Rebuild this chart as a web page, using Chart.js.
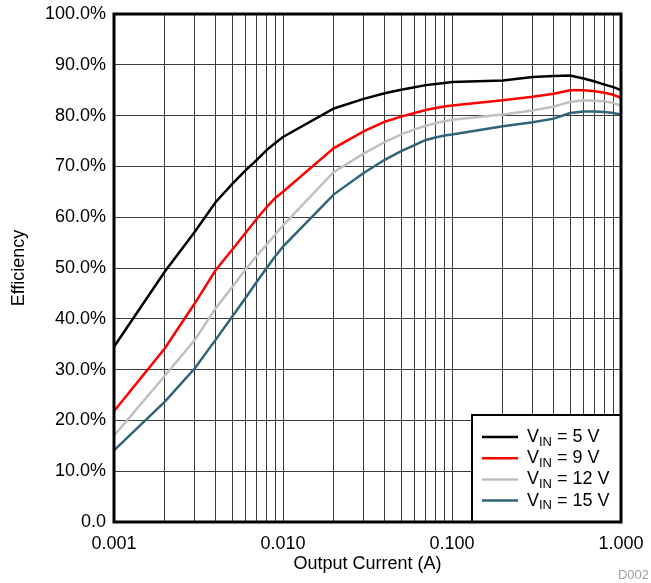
<!DOCTYPE html>
<html lang="en">
<head>
  <meta charset="UTF-8" />
  <script src="https://cdn.jsdelivr.net/npm/chart.js"></script>
  <title>Efficiency vs Output Current</title>
  <style>
    * {
      padding: 0;
      margin: 0;
    }

    html, body {
      background-color: #ffffff;
    }

    .graph {
      position: relative;
      width: 651px;
      height: 583px;
    }
  </style>
</head>
<body>
  <div class="graph">
    <canvas id="effGraph" aria-label="Efficiency vs Output Current" role="img"></canvas>
  </div>

<script>
  // Output current (A), sample points of the curves
  const currents = [0.001, 0.002, 0.003, 0.004, 0.005, 0.006, 0.007, 0.008, 0.009,
                    0.01, 0.02, 0.03, 0.04, 0.05, 0.06, 0.07, 0.08, 0.09,
                    0.1, 0.2, 0.3, 0.4, 0.5, 0.6, 0.7, 0.8, 0.9, 1.0];

  // Efficiency (%) for each input voltage
  const eff5V  = [34.5, 49.3, 57.1, 63.0, 66.5, 69.2, 71.3, 73.2, 74.6, 75.8, 81.4, 83.3, 84.4, 85.1, 85.6, 86.0, 86.2, 86.4, 86.6, 86.9, 87.6, 87.8, 87.9, 87.3, 86.7, 86.1, 85.6, 85.0];
  const eff9V  = [21.8, 34.2, 43.0, 49.6, 53.6, 56.9, 59.7, 62.0, 63.8, 65.0, 73.6, 76.9, 78.8, 79.8, 80.5, 81.1, 81.5, 81.8, 82.0, 83.0, 83.7, 84.3, 85.0, 85.0, 84.8, 84.5, 84.1, 83.5];
  const eff12V = [17.0, 28.8, 35.8, 42.1, 46.2, 49.7, 52.4, 54.6, 56.6, 58.4, 68.9, 72.5, 74.8, 76.3, 77.3, 78.0, 78.5, 78.9, 79.2, 80.2, 81.0, 81.8, 82.7, 83.0, 82.9, 82.8, 82.5, 81.9];
  const eff15V = [14.1, 23.7, 30.2, 35.9, 40.4, 44.1, 47.3, 50.0, 52.3, 54.2, 64.5, 68.7, 71.3, 73.0, 74.2, 75.2, 75.7, 76.1, 76.3, 77.9, 78.7, 79.4, 80.5, 80.8, 80.8, 80.7, 80.5, 80.2];

  const seriesNames = ["5 V", "9 V", "12 V", "15 V"];
  const seriesData = [eff5V, eff9V, eff12V, eff15V];
  const lineColors = ["#000000", "#ff0000", "#c0c0c0", "#2f6479"];

  // Grid lines at every 1..9 step of each decade, labels only on decades
  const xGrid = [0.001, 0.002, 0.003, 0.004, 0.005, 0.006, 0.007, 0.008, 0.009,
                 0.01, 0.02, 0.03, 0.04, 0.05, 0.06, 0.07, 0.08, 0.09,
                 0.1, 0.2, 0.3, 0.4, 0.5, 0.6, 0.7, 0.8, 0.9, 1.0];
  const xLabels = [0.001, 0.01, 0.1, 1.0];

  const fontFamily = "'Liberation Sans', Arial, Helvetica, sans-serif";

  const datasets = [];
  for (var i = 0; i < seriesData.length; i++) {
    datasets.push({
      label: seriesNames[i],
      data: currents.map((c, j) => ({ x: c, y: seriesData[i][j] })),
      borderColor: lineColors[i],
      backgroundColor: lineColors[i],
      borderWidth: 2.5,
      pointRadius: 0,
      tension: 0,
      fill: false
    });
  }

  // Frame, legend with subscripts and the figure id
  const decorations = {
    id: 'decorations',
    afterDatasetsDraw(chart) {
      const ctx = chart.ctx;
      const area = chart.chartArea;
      ctx.save();

      // legend box sits in the bottom right corner of the plot
      const boxW = 149, boxH = 107;
      const bx = area.right - boxW, by = area.bottom - boxH;
      ctx.fillStyle = '#fff';
      ctx.fillRect(bx, by, boxW, boxH);
      ctx.strokeStyle = '#000';
      ctx.lineWidth = 2;
      ctx.strokeRect(bx, by, boxW, boxH);
      ctx.lineWidth = 3;
      ctx.strokeRect(area.left, area.top, area.right - area.left, area.bottom - area.top);

      ctx.textBaseline = 'middle';
      ctx.textAlign = 'left';
      for (var k = 0; k < seriesNames.length; k++) {
        const ry = by + 22 + k * 21.2;
        ctx.strokeStyle = lineColors[k];
        ctx.lineWidth = 2.5;
        ctx.beginPath();
        ctx.moveTo(bx + 10, ry);
        ctx.lineTo(bx + 46, ry);
        ctx.stroke();

        ctx.fillStyle = '#000';
        let tx = bx + 55;
        ctx.font = '18px ' + fontFamily;
        ctx.fillText('V', tx, ry);
        tx += ctx.measureText('V').width;
        ctx.font = '13px ' + fontFamily;
        ctx.fillText('IN', tx, ry + 5);
        tx += ctx.measureText('IN').width;
        ctx.font = '18px ' + fontFamily;
        ctx.fillText(' = ' + seriesNames[k], tx, ry);
      }

      ctx.fillStyle = '#a0a0a0';
      ctx.font = '13px ' + fontFamily;
      ctx.textAlign = 'right';
      ctx.fillText('D002', chart.width - 2, chart.height - 8);
      ctx.restore();
    }
  };

  const effGraph = document.getElementById('effGraph');

  Chart.defaults.color = "#000";
  Chart.defaults.font.family = fontFamily;
  Chart.defaults.font.size = 18;

  const effGraphChart = new Chart(effGraph, {
    type: 'line',
    data: {
      datasets: datasets
    },
    options: {
      responsive: true,
      maintainAspectRatio: false,
      animation: false,
      layout: {
        padding: { top: 14, right: 30, bottom: 0, left: 0 }
      },
      scales: {
        x: {
          type: 'logarithmic',
          min: 0.001,
          max: 1,
          afterBuildTicks: function(scale) {
            scale.ticks = xGrid.map(v => ({ value: v }));
          },
          afterFit: function(scale) {
            scale.height = 61;
            scale.paddingLeft = 0;
            scale.paddingRight = 0;
          },
          grid: {
            color: '#3c3c3c',
            lineWidth: 1,
            drawTicks: false
          },
          border: { display: false },
          ticks: {
            autoSkip: false,
            maxRotation: 0,
            minRotation: 0,
            padding: 11,
            callback: function(value) {
              for (var d = 0; d < xLabels.length; d++) {
                if (Math.abs(value - xLabels[d]) < xLabels[d] * 1e-6) {
                  return xLabels[d].toFixed(3);
                }
              }
              return '';
            }
          },
          title: {
            display: true,
            text: 'Output Current (A)',
            font: { size: 18 },
            padding: { top: 0, bottom: 8 }
          }
        },
        y: {
          min: 0,
          max: 100,
          afterFit: function(scale) {
            scale.width = 114;
            scale.paddingTop = 0;
            scale.paddingBottom = 0;
          },
          grid: {
            color: '#3c3c3c',
            lineWidth: 1,
            drawTicks: false
          },
          border: { display: false },
          ticks: {
            stepSize: 10,
            padding: 8,
            callback: function(value) {
              return value === 0 ? '0.0' : value.toFixed(1) + '%';
            }
          },
          title: {
            display: true,
            text: 'Efficiency',
            font: { size: 18 },
            padding: { top: 8, bottom: 0 }
          }
        }
      },
      plugins: {
        legend: { display: false },
        tooltip: { enabled: false }
      }
    },
    plugins: [decorations]
  });
</script>
</body>
</html>
